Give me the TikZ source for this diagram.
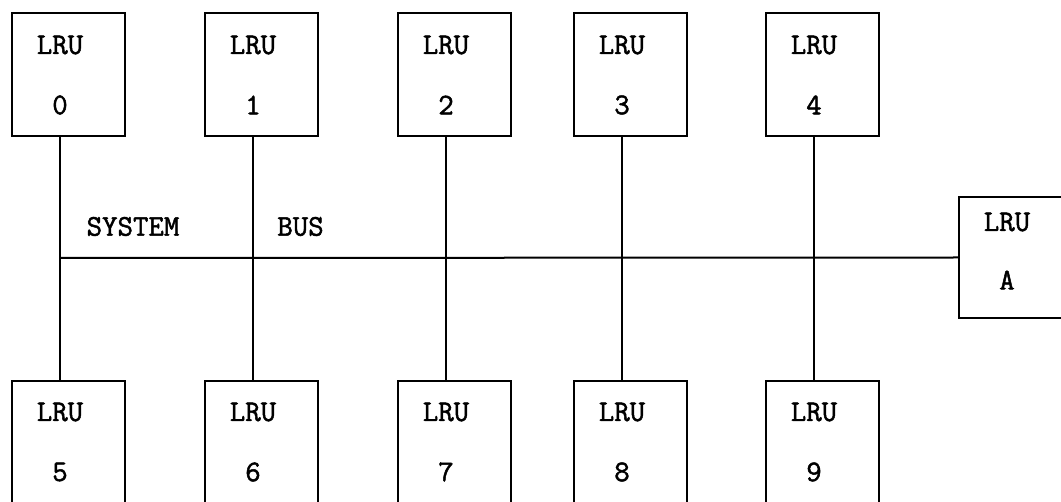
\documentclass[tikz,border=0pt]{standalone}
\usepackage{fontspec}
\newfontfamily\unitfont{Latin Modern Mono}[FakeBold=1.6]
\begin{document}
\begin{tikzpicture}[x=1pt,y=-1pt,line width=2pt,
  unitbox/.style={draw,rectangle,minimum width=113pt,inner sep=0pt},
  toprow/.style={unitbox,minimum height=123pt},
  botrow/.style={unitbox,minimum height=124pt},
  lbl/.style={inner sep=0pt,font=\fontsize{30}{32}\unitfont}]
\useasboundingbox (0,0) rectangle (1061,502);
\clip (0,0) rectangle (1061,502);

% upper row of units: frame, name and number
\foreach \i/\x in {0/60,1/253,2/446,3/622,4/814}{
  \node[toprow] (b\i) at (\x+8,74.5) {};
  \node[lbl] (t\i) at (\x,45) {LRU};
  \node[lbl] (n\i) at (\x,105) {\i};
}
% lower row of units
\foreach \i/\x in {5/60,6/253,7/446,8/622,9/814}{
  \node[botrow] (b\i) at (\x+8,443) {};
  \node[lbl] (t\i) at (\x,412) {LRU};
  \node[lbl] (n\i) at (\x,472) {\i};
}
% unit A at the end of the bus
\node[unitbox,minimum width=104pt,minimum height=121pt] (bA) at (1011,257.5) {};
\node[lbl] (tA) at (1007,222) {LRU};
\node[lbl] (nA) at (1007,280) {A};

% bus labels
\node[lbl] (sys) at (133,226.5) {SYSTEM};
\node[lbl] (bus) at (300.5,226.5) {BUS};

% system bus and the vertical drops
\coordinate (busL) at (60,258);
\draw (busL) -- (bA.west);
\foreach \u/\l in {0/5,1/6,2/7,3/8,4/9}{
  \draw (t\u |- b\u.south) -- (t\l |- b\l.north);
}
\end{tikzpicture}
\end{document}
